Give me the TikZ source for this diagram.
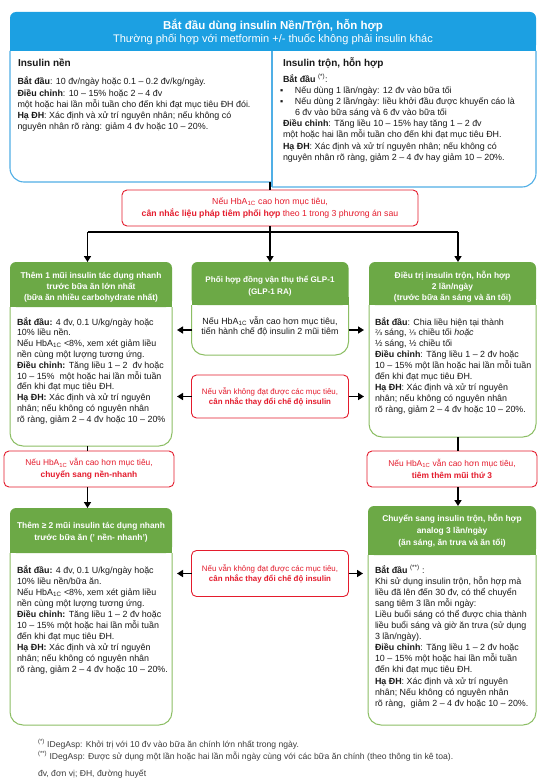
\documentclass[tikz,border=0pt]{standalone}
\usepackage{fontspec}
\setmainfont{Liberation Sans}
\newfontfamily\djvfont{DejaVu Sans}
\usetikzlibrary{arrows.meta}
\definecolor{hblue}{RGB}{28,160,226}
\definecolor{bline}{RGB}{80,175,230}
\definecolor{gfill}{RGB}{108,169,70}
\definecolor{gline}{RGB}{140,190,100}
\definecolor{redc}{RGB}{228,28,45}
\definecolor{txtc}{RGB}{25,25,25}
\definecolor{fnc}{RGB}{60,60,60}
\newcommand\hba{HbA\textsubscript{1C}}
\newcommand\Lft[1]{\vtop{\lineskiplimit=-30pt\halign{##\hfil\cr#1\crcr}}}
\newcommand\Ctr[1]{\vtop{\lineskiplimit=-30pt\halign{\hfil##\hfil\cr#1\crcr}}}
\newcommand\fz[2]{\fontsize{#1}{#2}\selectfont}
\newcommand\gbox[2]{%
  \fill[gfill, rounded corners=6pt] (#1.north west) rectangle ([yshift=-#2]#1.north east);
  \fill[gfill] ([yshift=-#2+8pt]#1.north west) rectangle ([yshift=-#2]#1.north east);
  \draw[gline, line width=1pt, rounded corners=13pt] ([yshift=-#2]#1.north west) -- (#1.south west) -- (#1.south east) -- ([yshift=-#2]#1.north east);
}
\begin{document}
\begin{tikzpicture}[x=1pt,y=-1pt,
  frame/.style={draw=none, inner sep=0pt, outer sep=0pt, rectangle},
  body/.style={inner sep=0pt, outer sep=0pt, anchor=base west, text=txtc},
  ghead/.style={inner sep=0pt, outer sep=0pt, anchor=base, text=white},
  redbox/.style={draw=redc, line width=0.9pt, rounded corners=5pt, fill=white, text=redc, inner sep=0pt, outer sep=0pt},
  con/.style={line width=1.5pt, black},
  arr/.style={line width=1.5pt, black, -{Triangle[length=6pt, width=7pt]}}]
\useasboundingbox[fill=white] (0,0) rectangle (546,781);

% ---------- frames ----------
\node[frame, minimum width=526pt, minimum height=170pt] (T) at (273,97) {};
\node[frame, minimum width=162pt, minimum height=184pt] (L1) at (91,354) {};
\node[frame, minimum width=157pt, minimum height=93pt] (M) at (270,308.5) {};
\node[frame, minimum width=167pt, minimum height=175pt] (R1) at (452.5,349.5) {};
\node[frame, minimum width=162pt, minimum height=217pt] (L2) at (91,616.5) {};
\node[frame, minimum width=168pt, minimum height=219pt] (R2) at (452,615.5) {};

% ---------- top box ----------
\fill[hblue, rounded corners=6pt] (10,12) rectangle (536,51);
\fill[hblue] (10,43) rectangle (536,51);
\draw[bline, line width=1.1pt, rounded corners=14pt] (10,51) -- (10,182) -- (272,182);
\draw[bline, line width=1.1pt] (272,51) -- (272,187);
\draw[bline, line width=1.1pt, rounded corners=14pt] (272,187) -- (536,187) -- (536,51);

\node[ghead] (H1) at (273,30) {\fz{11.5}{13}\bfseries Bắt đầu dùng insulin Nền/Trộn, hỗn hợp};
\node[ghead] (H2) at (273,43) {\fz{11}{13}Thường phối hợp với metformin +/- thuốc không phải insulin khác};

\node[body] (TLh) at (18,67) {\fz{10}{11}\bfseries Insulin nền};
\node[body, font=\fz{8.9}{11.2}] (TLb) at (17.5,85) {\Lft{%
{\bfseries Bắt đầu}: 10 đv/ngày hoặc 0.1 – 0.2 đv/kg/ngày.\cr
{\bfseries Điều chỉnh}: 10 – 15\% hoặc 2 – 4 đv\cr
một hoặc hai lần mỗi tuần cho đến khi đạt mục tiêu ĐH đói.\cr
{\bfseries Hạ ĐH}: Xác định và xử trí nguyên nhân; nếu không có\cr
nguyên nhân rõ ràng: giảm 4 đv hoặc 10 – 20\%.}};

\node[body] (TRh) at (283,67) {\fz{10}{11}\bfseries Insulin trộn, hỗn hợp};
\node[body, font=\fz{8.9}{11.1}] (TRb) at (283,82.5) {\Lft{%
{\bfseries Bắt đầu} \textsuperscript{(*)}:\cr
\hspace*{-3pt}\makebox[15pt][l]{▪}Nếu dùng 1 lần/ngày: 12 đv vào bữa tối\cr
\hspace*{-3pt}\makebox[15pt][l]{▪}Nếu dùng 2 lần/ngày: liều khởi đầu được khuyến cáo là\cr
\hspace*{12pt}6 đv vào bữa sáng và 6 đv vào bữa tối\cr
{\bfseries Điều chỉnh}: Tăng liều 10 – 15\% hay tăng 1 – 2 đv\cr
một hoặc hai lần mỗi tuần cho đến khi đạt mục tiêu ĐH.\cr
{\bfseries Hạ ĐH}: Xác định và xử trí nguyên nhân; nếu không có\cr
nguyên nhân rõ ràng, giảm 2 – 4 đv hay giảm 10 – 20\%.}};

% ---------- red box 1 + connectors ----------
\node[redbox, minimum width=296pt, minimum height=36pt] (RB1) at (270,208) {\fz{8.7}{11.6}\Ctr{%
Nếu \hba{} cao hơn mục tiêu,\cr
{\bfseries cân nhắc liệu pháp tiêm phối hợp} theo 1 trong 3 phương án sau}};
\coordinate (cl) at (87.5,232);
\coordinate (cr) at (458,232);
\draw[con] (T.south -| M.north) -- (RB1.north);
\draw[arr] (RB1.south) -- (M.north);
\draw[con] (cl) -- (cr);
\draw[arr] (cl) -- (cl |- L1.north);
\draw[arr] (cr) -- (cr |- R1.north);

% ---------- green boxes ----------
\gbox{L1}{45pt}
\gbox{M}{43pt}
\gbox{R1}{43pt}
\gbox{L2}{45pt}
\gbox{R2}{49pt}

% L1
\node[ghead, font=\fz{8.4}{11.2}\bfseries] (L1h) at (91,278.5) {\Ctr{%
Thêm 1 mũi insulin tác dụng nhanh\cr
trước bữa ăn lớn nhất\cr
(bữa ăn nhiều carbohydrate nhất)}};
\node[body, font=\fz{8.9}{10.8}] (L1b) at (17,325) {\Lft{%
{\bfseries Bắt đầu:} 4 đv, 0.1 U/kg/ngày hoặc\cr
10\% liều nền.\cr
Nếu \hba{} <8\%, xem xét giảm liều\cr
nền cùng một lượng tương ứng.\cr
{\bfseries Điều chỉnh:} Tăng liều 1 – 2~ đv hoặc\cr
10 – 15\%~ một hoặc hai lần mỗi tuần\cr
đến khi đạt mục tiêu ĐH.\cr
{\bfseries Hạ ĐH:} Xác định và xử trí nguyên\cr
nhân; nếu không có nguyên nhân\cr
rõ ràng, giảm 2 – 4 đv hoặc 10 – 20\%}};

% M
\node[ghead, font=\fz{8.1}{12.4}\bfseries] (Mh) at (270,282) {\Ctr{%
Phối hợp đồng vận thụ thể GLP-1\cr
(GLP-1 RA)}};
\node[ghead, text=txtc, font=\fz{8.9}{10.5}] (Mb) at (270,324) {\Ctr{%
Nếu \hba{} vẫn cao hơn mục tiêu,\cr
tiến hành chế độ insulin 2 mũi tiêm}};

% R1
\node[ghead, font=\fz{8.4}{11}\bfseries] (R1h) at (452.5,278) {\Ctr{%
Điều trị insulin trộn, hỗn hợp\cr
2 lần/ngày\cr
(trước bữa ăn sáng và ăn tối)}};
\node[body, font=\fz{8.9}{10.95}] (R1b) at (375,325) {\Lft{%
{\bfseries Bắt đầu}: Chia liều hiện tại thành\cr
{\djvfont\fz{7.5}{10}⅔} sáng, {\djvfont\fz{7.5}{10}⅓} chiều tối {\itshape hoặc}\cr
½ sáng, ½ chiều tối\cr
{\bfseries Điều chỉnh}: Tăng liều 1 – 2 đv hoặc\cr
10 – 15\% một lần hoặc hai lần mỗi tuần\cr
đến khi đạt mục tiêu ĐH.\cr
{\bfseries Hạ ĐH}: Xác định và xử trí nguyên\cr
nhân; nếu không có nguyên nhân\cr
rõ ràng, giảm 2 – 4 đv hoặc 10 – 20\%.}};

% middle red boxes
\node[redbox, minimum width=157pt, minimum height=43pt] (RB2) at (270,396.5) {\fz{7.9}{10}\Ctr{%
Nếu vẫn không đạt được các mục tiêu,\cr
{\bfseries cân nhắc thay đổi chế độ insulin}}};
\node[redbox, minimum width=157pt, minimum height=46pt] (RB3) at (270,573.5) {\fz{7.9}{10}\Ctr{%
Nếu vẫn không đạt được các mục tiêu,\cr
{\bfseries cân nhắc thay đổi chế độ insulin}}};

\draw[arr] ([yshift=-21.5pt]M.west) -- ([xshift=5pt,yshift=-21.5pt]M.west -| L1.east);
\draw[arr] ([yshift=-21.5pt]M.east) -- ([xshift=-5pt,yshift=-21.5pt]M.east -| R1.west);
\draw[arr] (RB2.west) -- ([xshift=5pt]RB2.west -| L1.east);
\draw[arr] (RB2.east) -- ([xshift=-5pt]RB2.east -| R1.west);
\draw[arr] (RB3.west) -- ([xshift=5pt]RB3.west -| L2.east);
\draw[arr] (RB3.east) -- ([xshift=-5pt]RB3.east -| R2.west);

% side red boxes
\node[redbox, minimum width=170pt, minimum height=36pt] (RL) at (89,469) {\fz{8.4}{12}\Ctr{%
Nếu \hba{} vẫn cao hơn mục tiêu,\cr
{\bfseries chuyển sang nền-nhanh}}};
\node[redbox, minimum width=170pt, minimum height=36pt] (RR) at (452,469) {\fz{8.4}{12}\Ctr{%
Nếu \hba{} vẫn cao hơn mục tiêu,\cr
{\bfseries tiêm thêm mũi thứ 3}}};
\draw[con] (cl |- L1.south) -- (cl |- RL.north);
\draw[arr] (cl |- RL.south) -- (cl |- L2.north);
\draw[con] (cr |- R1.south) -- (cr |- RR.north);
\draw[arr] (cr |- RR.south) -- (cr |- R2.north);

% L2
\node[ghead, font=\fz{8.4}{12}\bfseries] (L2h) at (91,528) {\Ctr{%
Thêm ≥ 2 mũi insulin tác dụng nhanh\cr
trước bữa ăn (' nền- nhanh')}};
\node[body, font=\fz{8.9}{11}] (L2b) at (17,573) {\Lft{%
{\bfseries Bắt đầu:} 4 đv, 0.1 U/kg/ngày hoặc\cr
10\% liều nền/bữa ăn.\cr
Nếu \hba{} <8\%, xem xét giảm liều\cr
nền cùng một lượng tương ứng.\cr
{\bfseries Điều chỉnh:} Tăng liều 1 – 2 đv hoặc\cr
10 – 15\% một hoặc hai lần mỗi tuần\cr
đến khi đạt mục tiêu ĐH.\cr
{\bfseries Hạ ĐH:} Xác định và xử trí nguyên\cr
nhân; nếu không có nguyên nhân\cr
rõ ràng, giảm 2 – 4 đv hoặc 10 – 20\%.}};

% R2
\node[ghead, font=\fz{8.4}{12}\bfseries] (R2h) at (452,521) {\Ctr{%
Chuyển sang insulin trộn, hỗn hợp\cr
analog 3 lần/ngày\cr
(ăn sáng, ăn trưa và ăn tối)}};
\node[body, font=\fz{8.9}{11.1}] (R2b) at (375,573) {\Lft{%
{\bfseries Bắt đầu} \textsuperscript{(**)} :\cr
Khi sử dụng insulin trộn, hỗn hợp mà\cr
liều đã lên đến 30 đv, có thể chuyển\cr
sang tiêm 3 lần mỗi ngày:\cr
Liều buổi sáng có thể được chia thành\cr
liều buổi sáng và giờ ăn trưa (sử dụng\cr
3 lần/ngày).\cr
{\bfseries Điều chỉnh}: Tăng liều 1 – 2 đv hoặc\cr
10 – 15\% một hoặc hai lần mỗi tuần\cr
đến khi đạt mục tiêu ĐH.\cr
{\bfseries Hạ ĐH}: Xác định và xử trí nguyên\cr
nhân; Nếu không có nguyên nhân\cr
rõ ràng,~ giảm 2 – 4 đv hoặc 10 – 20\%.}};

% footnotes
\node[body, text=fnc, font=\fz{8.6}{10}] (F1) at (38,747) {\textsuperscript{(*)} IDegAsp: Khởi trị với 10 đv vào bữa ăn chính lớn nhất trong ngày.};
\node[body, text=fnc, font=\fz{8.6}{10}] (F2) at (38,759) {\textsuperscript{(**)} IDegAsp: Được sử dụng một lần hoặc hai lần mỗi ngày cùng với các bữa ăn chính (theo thông tin kê toa).};
\node[body, text=fnc, font=\fz{8.6}{10}] (F3) at (38,776) {đv, đơn vị; ĐH, đường huyết};
\end{tikzpicture}
\end{document}
